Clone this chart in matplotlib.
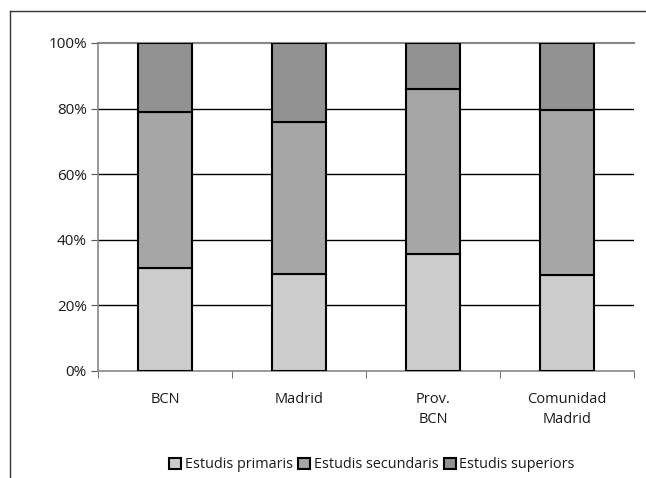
import numpy as np
import matplotlib.pyplot as plt
from matplotlib.lines import Line2D
from matplotlib.ticker import FuncFormatter

plt.rcParams['font.family'] = ['Open Sans', 'DejaVu Sans']

# Datos (porcentajes)
categorias = ['BCN', 'Madrid', 'Prov.\nBCN', 'Comunidad\nMadrid']
primaris = [31.3, 29.6, 35.7, 29.3]
secundaris = [47.8, 46.2, 50.3, 50.4]
superiors = [20.9, 24.2, 14.0, 20.3]
series = ['Estudis primaris', 'Estudis secundaris', 'Estudis superiors']
colores = ['#cccccc', '#a6a6a6', '#929292']

fig = plt.figure(figsize=(6.46, 4.78), dpi=100)
ax = fig.add_axes([98/646, 1-371/478, (634-98)/646, (371-43)/478])

x = np.arange(len(categorias))
abajo = np.zeros(len(categorias))
for vals, nombre, col in zip([primaris, secundaris, superiors], series, colores):
    ax.bar(x, vals, width=0.4, bottom=abajo, color=col, edgecolor='black',
           linewidth=1.5, label=nombre, zorder=3)
    abajo += np.array(vals)

ax.set_xlim(-0.5, len(categorias) - 0.5)
ax.set_ylim(0, 100)
ax.set_yticks(np.arange(0, 101, 20))
ax.yaxis.set_major_formatter(FuncFormatter(lambda v, p: f'{v:.0f}%'))
# líneas de división (la de 100% en gris, como el borde del área)
for v in np.arange(20, 100, 20):
    ax.axhline(v, color='black', linewidth=1, zorder=1)
ax.axhline(100, color='#888888', linewidth=1.5, zorder=1, clip_on=False)

ax.set_xticks(x)
ax.set_xticklabels(categorias, fontsize=10.5, color='#1a1a1a', linespacing=1.45)
ax.set_xticks(np.arange(-0.5, len(categorias), 1), minor=True)
ax.tick_params(axis='x', which='major', length=0, pad=15)
ax.tick_params(axis='x', which='minor', length=5, color='#555555', direction='out')
ax.tick_params(axis='y', length=5, color='#555555', labelsize=11, labelcolor='#1a1a1a', pad=3)

for lado in ['top', 'right']:
    ax.spines[lado].set_visible(False)
ax.spines['left'].set_color('#888888')
ax.spines['bottom'].set_color('#888888')
ax.spines['left'].set_linewidth(1.2)
ax.spines['bottom'].set_linewidth(1.2)

# marco exterior del gráfico
fig.add_artist(Line2D([10/646, 1], [1-11/478, 1-11/478], color='#333333', linewidth=1))
fig.add_artist(Line2D([10/646, 10/646], [0, 1-11/478], color='#333333', linewidth=1))

ax.legend(loc='center', bbox_to_anchor=(372/646, 1-465/478), bbox_transform=fig.transFigure,
          ncol=3, frameon=False, fontsize=10.4, handlelength=0.8, handleheight=0.8,
          handletextpad=0.25, columnspacing=0.4, borderpad=0, labelcolor='#1a1a1a')

fig.savefig('out.png', dpi=100)
